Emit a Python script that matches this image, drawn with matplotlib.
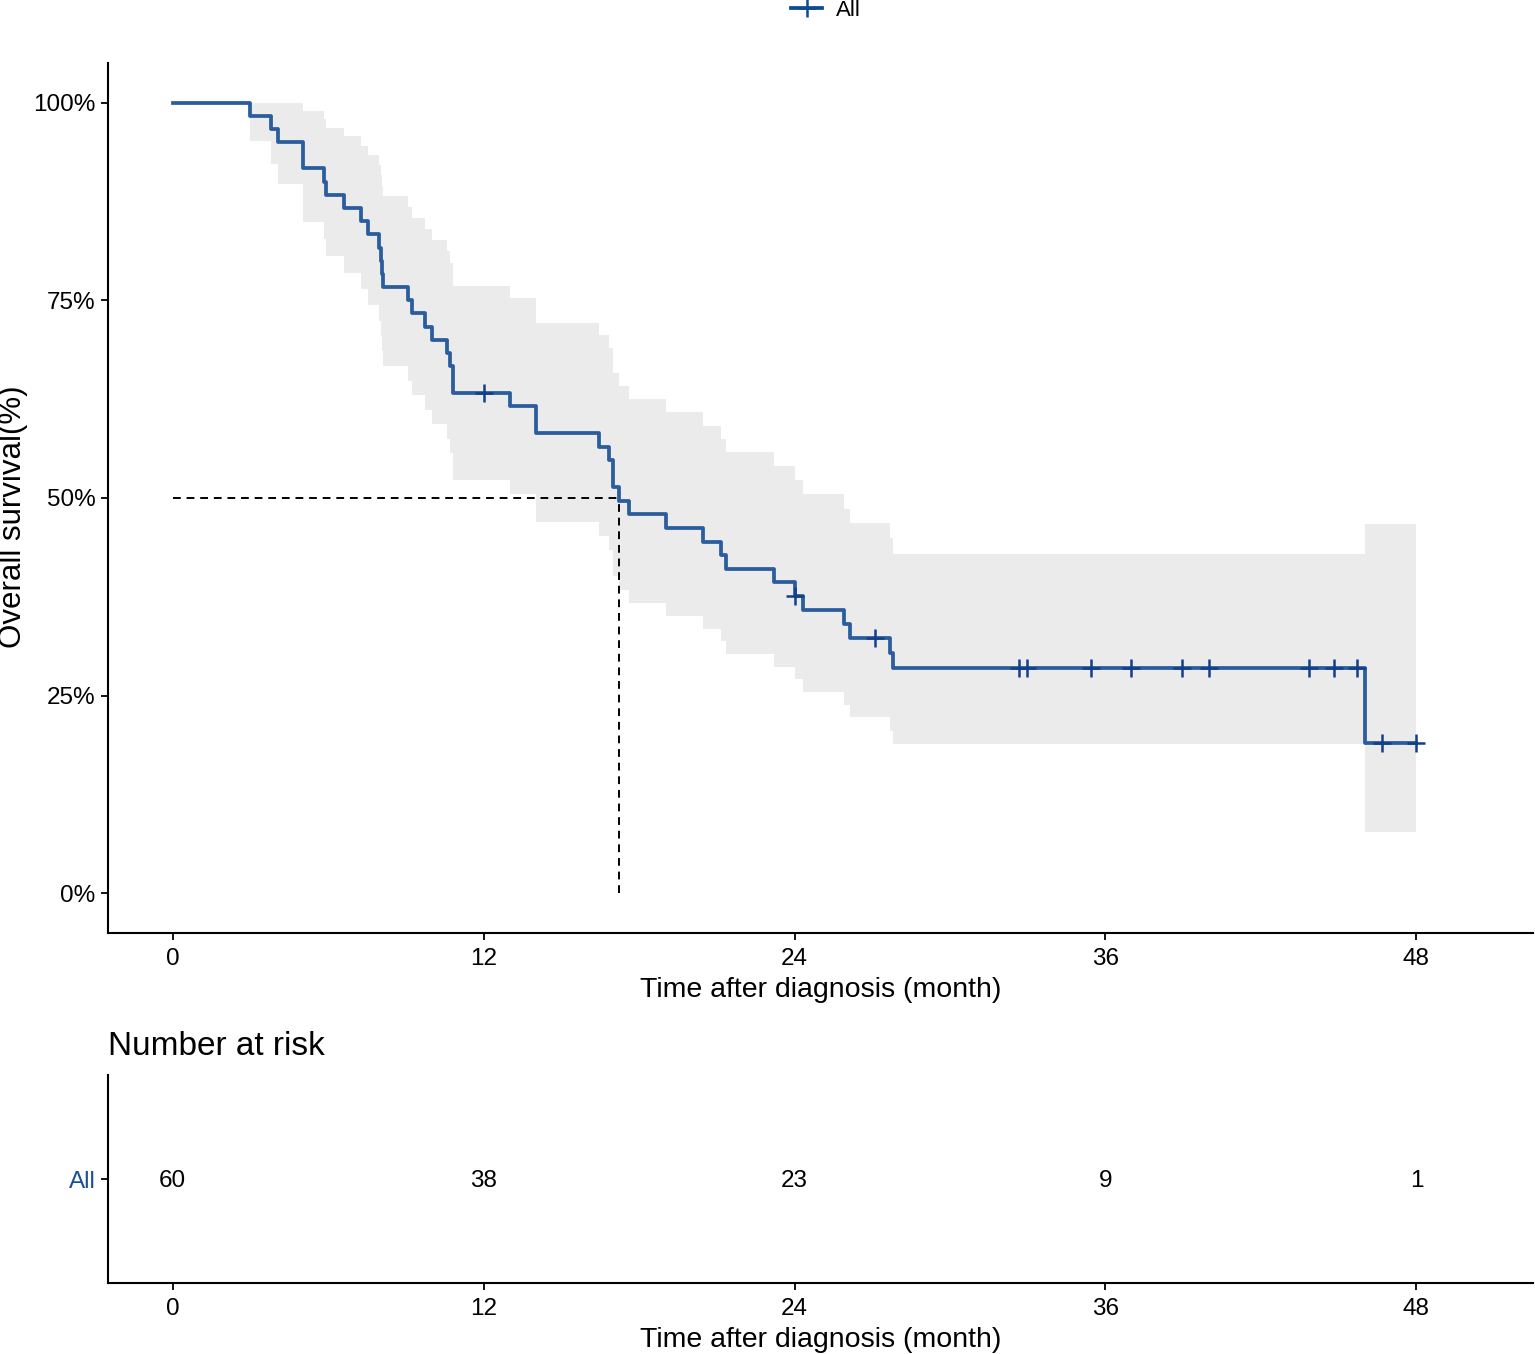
import matplotlib
matplotlib.use("Agg")
import matplotlib.pyplot as plt
import matplotlib.lines as mlines
import numpy as np

plt.rcParams['font.family'] = ['Liberation Sans', 'DejaVu Sans']

# KM curve (months, %)
step_time = [0, 3.0, 3.8, 4.07, 5.03, 5.84, 5.93, 6.62, 7.26, 7.54,
             7.97, 8.02, 8.06, 8.1, 9.06, 9.22, 9.73, 9.99, 10.6, 10.7,
             10.82, 13.0, 14.02, 16.46, 16.85, 17.0, 17.23, 17.62, 19.04, 20.46,
             21.15, 21.35, 23.22, 24.0, 24.31, 25.92, 26.14, 27.69, 27.78, 46.03]
surv = [100, 98.33, 96.67, 95.0, 91.67, 90.0, 88.33, 86.67, 85.0, 83.33,
        81.67, 80.0, 78.33, 76.67, 75.0, 73.33, 71.67, 70.0, 68.33, 66.67,
        63.33, 61.62, 58.2, 56.49, 54.78, 51.35, 49.64, 47.93, 46.22, 44.5,
        42.79, 41.08, 39.37, 37.66, 35.87, 34.07, 32.28, 30.38, 28.48, 18.99]
upper = [100, 100, 100, 100, 98.93, 97.92, 96.84, 95.71, 94.53, 93.32,
         92.07, 90.79, 89.48, 88.15, 86.8, 85.42, 84.03, 82.61, 81.18, 79.73,
         76.78, 75.26, 72.16, 70.59, 69.0, 65.78, 64.15, 62.5, 60.83, 59.16,
         57.47, 55.76, 54.04, 52.3, 50.49, 48.67, 46.82, 44.89, 42.94, 46.67]
lower = [100, 95.15, 92.23, 89.64, 84.93, 82.72, 80.57, 78.48, 76.43, 74.42,
         72.44, 70.49, 68.57, 66.68, 64.81, 62.96, 61.13, 59.31, 57.52, 55.75,
         52.24, 50.46, 46.94, 45.2, 43.48, 40.09, 38.42, 36.76, 35.11, 33.48,
         31.87, 30.27, 28.68, 27.12, 25.48, 23.85, 22.25, 20.56, 18.89, 7.73]
end_time = 48.0

censor_time = [12.0, 24.0, 27.1, 32.67, 32.98, 35.45, 36.99, 38.96, 40.01,
               43.87, 44.83, 45.7, 46.67, 48.0]
median_time = 17.23

risk_time = [0, 12, 24, 36, 48]
risk_n = [60, 38, 23, 9, 1]
group = "All"

line_col = '#2B5D9E'
mark_col = '#123F88'
band_col = '#EBEBEB'

fig = plt.figure(figsize=(15.35, 13.54), dpi=100)
ax = fig.add_axes([108/1535, 1-933/1354, 1425/1535, 870/1354])
ax2 = fig.add_axes([108/1535, 1-1283/1354, 1425/1535, 208/1354])

t = np.append(step_time, end_time)
s = np.append(surv, surv[-1])
lo = np.append(lower, lower[-1])
up = np.append(upper, upper[-1])

ax.fill_between(t, lo, up, step='post', color=band_col, lw=0, zorder=1)
ax.step(t, s, where='post', color=line_col, lw=2.7, zorder=3)

idx = np.searchsorted(step_time, censor_time, side='right') - 1
cy = np.array(surv)[idx]
ax.plot(censor_time, cy, ls='none', marker='+', ms=13, mew=1.8, color=mark_col, zorder=4)

# median lines
ax.plot([0, median_time], [50, 50], ls=(0, (4, 3)), color='black', lw=1.4, zorder=2)
ax.plot([median_time, median_time], [0, 50], ls=(0, (4, 3)), color='black', lw=1.4, zorder=2)

for a in (ax, ax2):
    a.set_xlim(-2.5, 52.5)
    a.set_xticks(risk_time)
    a.spines['top'].set_visible(False)
    a.spines['right'].set_visible(False)
    a.spines['left'].set_linewidth(1.5)
    a.spines['bottom'].set_linewidth(1.5)
    a.tick_params(axis='both', length=5, width=1.3, labelsize=17.5, pad=4)
    a.tick_params(axis='x', pad=6)
    a.set_xlabel('Time after diagnosis (month)', fontsize=20.5)

ax.set_ylim(-5, 105)
ax.set_yticks([0, 25, 50, 75, 100])
ax.set_yticklabels(['0%', '25%', '50%', '75%', '100%'])
ax.set_ylabel('Overall survival(%)', fontsize=22.5)
ax.yaxis.set_label_coords(-0.056, 0.479)
ax.xaxis.set_label_coords(0.5, -0.051)

# legend on top, close to the upper edge like the original
h = mlines.Line2D([], [], color='#0D4A94', lw=2.7, marker='+', ms=13, mew=1.8)
fig.legend(handles=[h], labels=[group], loc='center', bbox_to_anchor=(826/1535, 1-10/1354),
           frameon=False, fontsize=16, handlelength=1.4, handletextpad=0.6,
           borderpad=0, borderaxespad=0)

# risk table
ax2.set_ylim(0, 1)
ax2.set_yticks([0.5])
ax2.set_yticklabels([group])
ax2.get_yticklabels()[0].set_color('#1A4F96')
for x, n in zip(risk_time, risk_n):
    ax2.text(x, 0.49, str(n), ha='center', va='center', fontsize=17.5)
ax2.text(0, 1 + 20/208, 'Number at risk', transform=ax2.transAxes, fontsize=24,
         ha='left', va='baseline')
ax2.xaxis.set_label_coords(0.5, -0.21)

fig.savefig('out.png', dpi=100)
